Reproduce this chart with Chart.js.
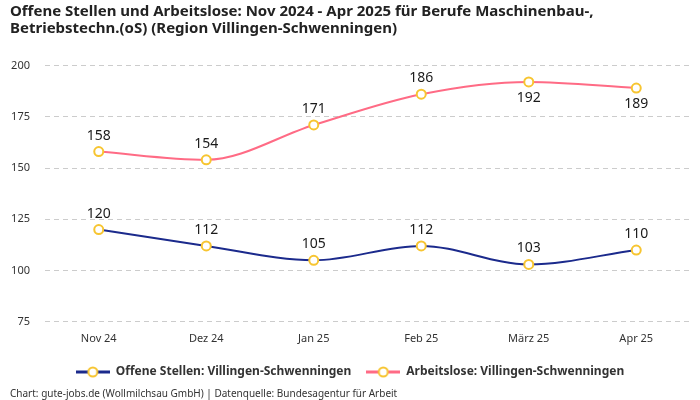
<!DOCTYPE html>
<html>
<head>
<meta charset="utf-8">
<script src="https://cdn.jsdelivr.net/npm/chart.js@4"></script>
<style>
  body { margin: 0; background: #fff; }
  #wrap { width: 700px; height: 400px; }
</style>
</head>
<body>
<div id="wrap"><canvas id="lineChart"></canvas></div>
<script>
const monate = ['Nov 24', 'Dez 24', 'Jan 25', 'Feb 25', 'März 25', 'Apr 25'];
const offeneStellen = [120, 112, 105, 112, 103, 110];
const arbeitslose = [158, 154, 171, 186, 192, 189];
const yTicks = [75, 100, 125, 150, 175, 200];

const FONT = '"Noto Sans", sans-serif';
const GELB = '#f7c531';

// kleines Bild fuer die Legende: Linie mit Kreis
function legendIcon(color) {
  const c = document.createElement('canvas');
  c.width = 34; c.height = 12;
  const g = c.getContext('2d');
  g.strokeStyle = color; g.lineWidth = 3;
  g.beginPath(); g.moveTo(0, 6); g.lineTo(34, 6); g.stroke();
  g.fillStyle = '#fff'; g.strokeStyle = GELB; g.lineWidth = 2;
  g.beginPath(); g.arc(17, 6, 4.5, 0, Math.PI * 2); g.fill(); g.stroke();
  return c;
}

const wertLabels = {
  id: 'wertLabels',
  afterDatasetsDraw(chart) {
    const ctx = chart.ctx;
    const top = chart.chartArea.top;
    ctx.save();
    ctx.font = '14px ' + FONT;
    ctx.fillStyle = '#1a1a1a';
    ctx.textAlign = 'center';
    ctx.textBaseline = 'middle';
    chart.data.datasets.forEach((ds, i) => {
      chart.getDatasetMeta(i).data.forEach((pt, j) => {
        const unten = pt.y - top < 25;
        ctx.fillText(ds.data[j], pt.x, unten ? pt.y + 16 : pt.y - 16);
      });
    });
    ctx.restore();
  }
};

const ctx = document.getElementById('lineChart').getContext('2d');
new Chart(ctx, {
  type: 'line',
  data: {
    labels: monate,
    datasets: [{
      label: 'Offene Stellen: Villingen-Schwenningen',
      data: offeneStellen,
      borderColor: '#1b2a8c',
      pointBorderColor: GELB,
      pointBackgroundColor: '#fff',
      legendColor: '#1b2a8c'
    }, {
      label: 'Arbeitslose: Villingen-Schwenningen',
      data: arbeitslose,
      borderColor: '#ff6b85',
      pointBorderColor: GELB,
      pointBackgroundColor: '#fff',
      legendColor: '#ff6b85'
    }]
  },
  options: {
    responsive: true,
    maintainAspectRatio: false,
    animation: false,
    layout: { padding: { left: 10, right: 10, top: 3, bottom: 0 } },
    elements: {
      line: { borderWidth: 2, cubicInterpolationMode: 'monotone' },
      point: { pointStyle: 'circle', radius: 4.5, borderWidth: 2 }
    },
    scales: {
      x: {
        offset: true,
        grid: { display: false },
        border: { display: false },
        afterFit: axis => { axis.height += 4; },
        ticks: { color: '#333', font: { family: FONT, size: 11 }, padding: 2 }
      },
      y: {
        min: 75,
        max: 200,
        grid: { color: '#cccccc', tickLength: 0 },
        border: { display: false, dash: [5, 4] },
        afterBuildTicks: axis => { axis.ticks = yTicks.map(v => ({ value: v })); },
        afterFit: axis => { axis.width = 35; },
        ticks: { color: '#333', font: { family: FONT, size: 11 }, padding: 15 }
      }
    },
    plugins: {
      title: {
        display: true,
        align: 'start',
        text: ['Offene Stellen und Arbeitslose: Nov 2024 - Apr 2025 für Berufe Maschinenbau-,', 'Betriebstechn.(oS) (Region Villingen-Schwenningen)'],
        color: '#222',
        font: { family: FONT, size: 15, weight: 'bold', lineHeight: 1.15 },
        padding: { top: 0, bottom: 28 }
      },
      subtitle: {
        display: true,
        position: 'bottom',
        align: 'start',
        text: 'Chart: gute-jobs.de (Wollmilchsau GmbH) | Datenquelle: Bundesagentur für Arbeit',
        color: '#333',
        font: { family: FONT, size: 10 },
        padding: { top: 0, bottom: 0 }
      },
      legend: {
        position: 'bottom',
        labels: {
          usePointStyle: true,
          pointStyleWidth: 34,
          color: '#333',
          font: { family: FONT, size: 12, weight: 'bold' },
          padding: 15,
          generateLabels: chart => chart.data.datasets.map((ds, i) => ({
            text: ds.label,
            pointStyle: legendIcon(ds.legendColor),
            fontColor: '#333',
            datasetIndex: i,
            lineWidth: 0
          }))
        }
      },
      tooltip: { enabled: false }
    }
  },
  plugins: [wertLabels]
});
</script>
</body>
</html>
